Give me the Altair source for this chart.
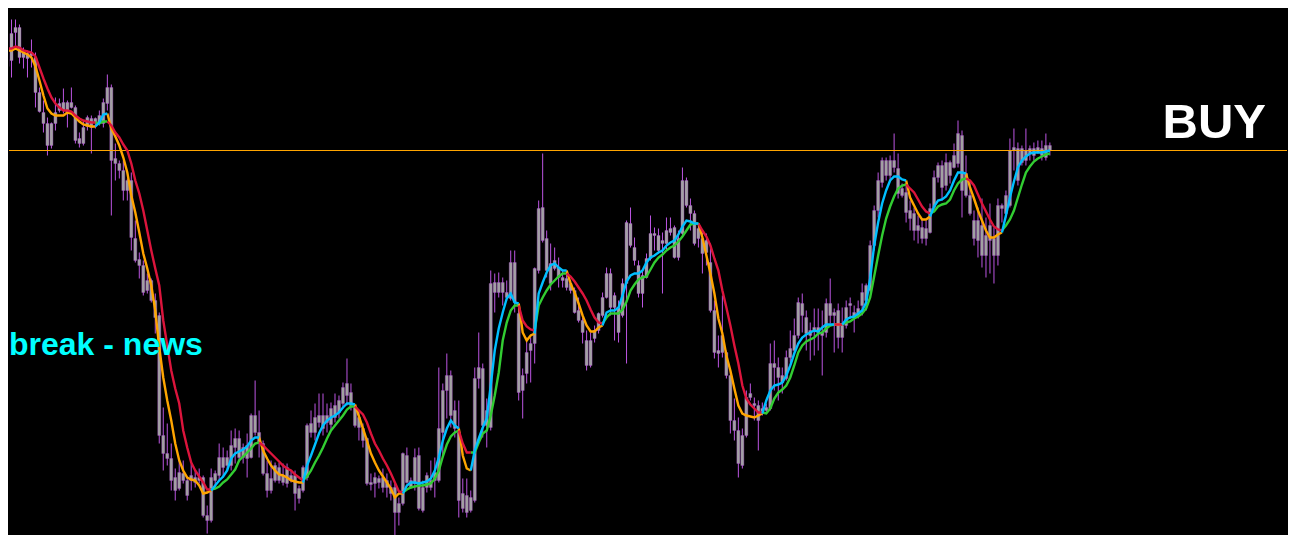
import altair as alt
import pandas as pd

# ---- candle data (price units, higher = higher price) ----
high = [
    485, 506, 524, 524, 519, 496, 493, 504, 491, 456,
    443, 426, 421, 446, 445, 455, 443, 456, 438, 411,
    423, 428, 428, 426, 433, 445, 469, 459, 400, 383,
    383, 365, 371, 323, 291, 283, 270, 265, 250, 231,
    136, 120, 100, 75, 83, 83, 66, 80, 73, 75,
    68, 38, 75, 73, 100, 96, 93, 113, 115, 113,
    100, 110, 130, 163, 133, 103, 83, 83, 81, 81,
    80, 80, 73, 73, 58, 78, 120, 133, 140, 150,
    150, 140, 141, 150, 148, 161, 185, 160, 138, 133,
    120, 106, 70, 71, 68, 75, 70, 63, 60, 46,
    91, 96, 66, 95, 96, 63, 71, 83, 86, 176,
    160, 190, 173, 143, 143, 65, 65, 53, 176, 211,
    180, 145, 273, 270, 271, 266, 263, 293, 293, 238,
    175, 206, 206, 276, 343, 390, 313, 300, 296, 286,
    273, 273, 263, 256, 246, 226, 213, 211, 218, 231,
    251, 276, 275, 251, 243, 265, 323, 336, 306, 283,
    273, 290, 328, 316, 315, 311, 326, 326, 318, 313,
    376, 366, 345, 333, 318, 311, 310, 300, 243, 208,
    248, 193, 173, 145, 126, 115, 153, 160, 146, 143,
    141, 140, 200, 203, 186, 176, 193, 213, 225, 246,
    250, 233, 221, 235, 235, 233, 245, 265, 235, 240,
    236, 243, 246, 238, 243, 260, 260, 303, 338, 371,
    386, 386, 388, 410, 390, 360, 360, 343, 336, 328,
    325, 323, 340, 373, 381, 383, 390, 383, 400, 423,
    413, 388, 363, 333, 336, 345, 326, 340, 316, 345,
    340, 353, 405, 415, 401, 398, 415, 398, 401, 403,
    403, 410, 401,
]
low = [
    476, 451, 466, 496, 480, 475, 466, 476, 436, 431,
    411, 388, 395, 413, 431, 430, 416, 435, 400, 396,
    398, 413, 390, 415, 418, 416, 433, 328, 363, 365,
    343, 343, 293, 281, 265, 248, 250, 241, 210, 100,
    73, 78, 53, 43, 53, 60, 43, 53, 56, 60,
    26, 10, 21, 56, 63, 66, 73, 73, 80, 83,
    80, 66, 85, 108, 86, 68, 46, 50, 61, 60,
    58, 56, 61, 33, 40, 51, 63, 106, 103, 116,
    108, 111, 113, 121, 125, 135, 138, 133, 116, 103,
    96, 58, 53, 46, 55, 51, 46, 43, 1, 18,
    38, 60, 55, 53, 33, 31, 51, 53, 46, 61,
    86, 125, 116, 106, 26, 31, 26, 31, 41, 155,
    106, 96, 113, 231, 246, 238, 243, 243, 231, 143,
    125, 160, 161, 180, 270, 301, 266, 253, 273, 256,
    256, 253, 250, 230, 221, 200, 173, 176, 201, 210,
    226, 245, 228, 203, 201, 226, 180, 296, 278, 246,
    236, 265, 283, 293, 290, 250, 293, 308, 285, 283,
    306, 336, 313, 298, 296, 270, 278, 231, 185, 176,
    186, 165, 110, 103, 66, 75, 106, 143, 123, 93,
    128, 130, 133, 153, 143, 150, 163, 181, 190, 205,
    211, 193, 183, 188, 193, 168, 206, 220, 191, 195,
    191, 215, 225, 211, 225, 228, 233, 251, 293, 326,
    356, 363, 363, 371, 345, 346, 321, 313, 303, 300,
    300, 298, 310, 333, 361, 343, 353, 360, 375, 376,
    326, 346, 328, 298, 286, 276, 266, 270, 260, 278,
    321, 326, 336, 373, 358, 378, 378, 383, 383, 390,
    383, 383, 388,
]
open_ = [
    483, 484, 510, 516, 516, 492, 490, 491, 486, 451,
    431, 420, 420, 431, 440, 441, 441, 441, 436, 405,
    416, 426, 425, 425, 420, 420, 440, 456, 385, 380,
    373, 363, 363, 305, 284, 278, 263, 263, 243, 228,
    108, 90, 85, 66, 71, 70, 63, 68, 66, 66,
    66, 28, 66, 63, 68, 76, 78, 78, 96, 86,
    86, 85, 86, 111, 101, 100, 70, 65, 78, 76,
    68, 76, 68, 68, 55, 76, 66, 111, 111, 121,
    115, 121, 119, 126, 131, 140, 148, 138, 118, 126,
    115, 105, 61, 66, 65, 66, 63, 56, 56, 40,
    90, 61, 56, 60, 35, 33, 56, 56, 63, 63,
    111, 153, 128, 115, 43, 50, 48, 46, 43, 165,
    118, 118, 116, 251, 251, 251, 246, 245, 241, 151,
    168, 191, 200, 275, 273, 303, 273, 260, 275, 266,
    263, 256, 260, 253, 233, 223, 203, 203, 213, 230,
    246, 246, 236, 236, 211, 228, 260, 298, 283, 250,
    250, 266, 285, 308, 293, 300, 300, 311, 286, 286,
    310, 338, 330, 300, 305, 305, 303, 281, 233, 193,
    208, 191, 168, 123, 113, 108, 146, 150, 140, 138,
    135, 133, 135, 176, 166, 161, 165, 186, 193, 208,
    228, 210, 208, 213, 211, 208, 211, 228, 228, 233,
    218, 218, 238, 226, 228, 238, 243, 253, 298, 333,
    361, 368, 368, 376, 350, 348, 331, 333, 330, 318,
    316, 315, 335, 336, 366, 356, 358, 368, 376, 380,
    353, 348, 348, 323, 323, 318, 308, 318, 305, 338,
    338, 330, 338, 393, 363, 381, 383, 390, 388, 391,
    388, 386, 393,
]
close = [
    477, 477, 483, 511, 486, 486, 485, 488, 451, 432,
    420, 398, 398, 420, 433, 433, 431, 436, 403, 400,
    400, 417, 416, 421, 428, 441, 456, 383, 380, 373,
    353, 353, 306, 283, 278, 251, 253, 243, 226, 108,
    90, 85, 63, 53, 55, 63, 48, 63, 61, 63,
    28, 23, 23, 70, 86, 86, 86, 98, 105, 105,
    96, 98, 128, 128, 111, 70, 53, 53, 63, 63,
    61, 60, 63, 50, 45, 53, 118, 120, 126, 128,
    128, 128, 135, 138, 143, 156, 160, 151, 136, 116,
    103, 60, 59, 60, 61, 56, 56, 50, 31, 31,
    40, 88, 63, 86, 88, 56, 68, 63, 71, 115,
    153, 168, 168, 133, 111, 35, 31, 33, 165, 176,
    175, 133, 260, 261, 261, 261, 251, 281, 281, 230,
    153, 170, 193, 200, 335, 336, 305, 280, 283, 276,
    266, 265, 253, 231, 223, 211, 178, 178, 205, 213,
    228, 270, 270, 248, 236, 260, 321, 320, 296, 278,
    268, 285, 310, 310, 308, 303, 313, 315, 316, 305,
    363, 363, 338, 330, 315, 290, 291, 233, 191, 190,
    191, 168, 123, 113, 80, 78, 108, 146, 138, 123,
    130, 136, 180, 180, 176, 168, 186, 195, 208, 241,
    240, 226, 213, 216, 216, 211, 240, 240, 231, 206,
    206, 236, 240, 231, 235, 251, 258, 298, 333, 363,
    383, 383, 383, 383, 375, 355, 351, 325, 313, 313,
    305, 305, 311, 366, 378, 378, 381, 381, 388, 410,
    408, 370, 330, 305, 303, 288, 288, 303, 288, 288,
    335, 348, 393, 396, 395, 395, 393, 395, 395, 396,
    395, 398, 398,
]

# ---- moving averages ----
fast_ma = [
    494, 493, 493, 495, 493, 491, 489, 486, 477, 463,
    448, 435, 430, 428, 428, 428, 431, 430, 426, 422,
    419, 418, 417, 417, 421, 429, 430, 415, 407, 398,
    386, 371, 348, 331, 311, 290, 275, 258, 233, 196,
    166, 143, 123, 100, 83, 73, 66, 64, 63, 58,
    50, 51, 53, 58, 63, 67, 73, 85, 90, 92,
    94, 97, 103, 106, 106, 93, 85, 78, 73, 69,
    68, 66, 63, 62, 61, 61, 78, 88, 99, 110,
    118, 123, 126, 128, 131, 136, 140, 140, 139, 127,
    115, 103, 90, 81, 73, 67, 61, 55, 46, 50,
    50, 58, 61, 61, 60, 61, 62, 65, 73, 86,
    103, 115, 123, 118, 115, 88, 75, 73, 93, 105,
    116, 125, 158, 193, 215, 231, 245, 250, 241, 240,
    211, 203, 208, 210, 250, 261, 271, 278, 280, 276,
    273, 273, 260, 251, 240, 228, 218, 212, 212, 216,
    218, 231, 233, 233, 236, 248, 262, 268, 270, 270,
    273, 281, 286, 288, 291, 293, 298, 301, 303, 309,
    317, 323, 322, 320, 320, 306, 288, 270, 250, 225,
    210, 188, 173, 155, 138, 130, 128, 127, 126, 128,
    130, 143, 153, 158, 159, 161, 168, 178, 190, 200,
    206, 209, 211, 213, 212, 216, 219, 219, 219, 219,
    219, 224, 226, 227, 230, 233, 241, 265, 298, 321,
    340, 353, 363, 367, 367, 364, 363, 346, 338, 330,
    324, 324, 327, 337, 343, 344, 347, 353, 363, 371,
    371, 370, 356, 345, 333, 323, 313, 306, 306, 309,
    311, 328, 346, 362, 376, 383, 387, 390, 391, 391,
    391, 392, 393,
]
slow_ma = [
    498, 495, 495, 497, 496, 493, 492, 491, 487, 476,
    465, 455, 446, 440, 436, 433, 433, 432, 428, 425,
    423, 422, 421, 421, 420, 422, 422, 418, 411, 406,
    399, 393, 380, 363, 350, 333, 313, 293, 275, 258,
    223, 198, 173, 155, 140, 113, 96, 81, 73, 67,
    61, 54, 54, 55, 57, 61, 64, 69, 74, 83,
    87, 91, 95, 100, 101, 98, 94, 90, 86, 82,
    78, 75, 73, 69, 66, 63, 67, 73, 81, 88,
    96, 105, 113, 118, 123, 128, 134, 137, 137, 133,
    129, 121, 110, 100, 93, 85, 78, 70, 61, 52,
    51, 54, 56, 57, 58, 58, 59, 60, 65, 73,
    87, 99, 107, 111, 113, 100, 91, 91, 91, 101,
    110, 113, 128, 148, 171, 203, 221, 233, 238, 238,
    223, 217, 214, 213, 238, 246, 253, 259, 263, 267,
    270, 270, 267, 262, 256, 250, 243, 234, 226, 221,
    220, 226, 230, 230, 230, 234, 242, 253, 259, 264,
    266, 267, 274, 281, 286, 289, 293, 296, 298, 302,
    307, 313, 319, 320, 320, 313, 307, 298, 285, 273,
    253, 236, 218, 198, 180, 158, 145, 139, 135, 131,
    131, 130, 135, 145, 151, 154, 158, 166, 178, 191,
    198, 202, 204, 206, 210, 211, 215, 218, 219, 219,
    219, 221, 222, 225, 227, 230, 235, 246, 267, 288,
    308, 325, 337, 347, 355, 358, 359, 355, 351, 344,
    337, 332, 330, 332, 337, 339, 340, 344, 353, 360,
    364, 365, 363, 358, 349, 340, 332, 324, 317, 314,
    313, 318, 324, 333, 346, 359, 371, 377, 382, 385,
    387, 389, 390,
]
# trend regime runs (colour of the MA pair): (kind, number of bars)
regime_runs = [
    ("down", 24), ("up", 3), ("down", 26), ("up", 12), ("down", 11),
    ("up", 13), ("down", 12), ("up", 14), ("down", 3), ("up", 12),
    ("down", 4), ("up", 8), ("down", 9), ("up", 24), ("down", 16),
    ("up", 18), ("down", 2), ("up", 16), ("down", 6), ("up", 9),
    ("down", 9), ("up", 12),
]
level_price = [393]
label_text = ["BUY", "break - news"]
label_bar = [316.125, 1.375]
label_price = [406, 189]

# ---- tables ----
n = len(high)
candles = pd.DataFrame({
    "bar": list(range(n)), "open": open_, "high": high, "low": low, "close": close,
})
rows = []
start = 0
for seg_id, (kind, length) in enumerate(regime_runs):
    first = max(start - 1, 0)
    for i in range(first, start + length):
        rows.append({"bar": i, "price": fast_ma[i], "series": "fast_" + kind, "seg": seg_id})
        rows.append({"bar": i, "price": slow_ma[i], "series": "slow_" + kind, "seg": seg_id})
    start += length
lines = pd.DataFrame(rows)
labels = pd.DataFrame({"text": label_text, "bar": label_bar, "price": label_price})
level = pd.DataFrame({"price": level_price})

xs = alt.Scale(domain=[1.375, 321.375], nice=False, zero=False, padding=0)
ys = alt.Scale(domain=[8.5, 535.5], nice=False, zero=False, padding=0)
X = alt.X("bar:Q", scale=xs, axis=None)

wicks = alt.Chart(candles).mark_rule(color="#BC55E2", strokeWidth=1, clip=True).encode(
    x=X, y=alt.Y("low:Q", scale=ys, axis=None), y2="high:Q"
)
bodies = alt.Chart(candles).mark_bar(
    size=3, fill="#A2A2A2", stroke="#B553DC", strokeWidth=0.5, strokeOpacity=0.7, clip=True
).encode(x=X, y=alt.Y("open:Q", scale=ys, axis=None), y2="close:Q")

line_colors = [
    ("slow_up", "#32CD32"),
    ("fast_down", "#FFA500"),
    ("slow_down", "#DC143C"),
    ("fast_up", "#00BFFF"),
]
line_layers = []
for name, col in line_colors:
    line_layers.append(
        alt.Chart(lines)
        .transform_filter(alt.datum.series == name)
        .mark_line(color=col, strokeWidth=2.4, clip=True)
        .encode(x=X, y=alt.Y("price:Q", scale=ys, axis=None), detail="seg:N")
    )

level_rule = alt.Chart(level).mark_rule(color="#FFA500", strokeWidth=1).encode(
    y=alt.Y("price:Q", scale=ys, axis=None)
)

buy_text = alt.Chart(labels).transform_filter(alt.datum.text == "BUY").mark_text(
    align="right", baseline="alphabetic", font="Liberation Sans", fontWeight="bold",
    fontSize=49, color="#FFFFFF"
).encode(x=X, y=alt.Y("price:Q", scale=ys, axis=None), text="text:N")

news_text = alt.Chart(labels).transform_filter(alt.datum.text == "break - news").mark_text(
    align="left", baseline="alphabetic", font="Liberation Sans", fontWeight="bold",
    fontSize=32, color="#00FFFF"
).encode(x=X, y=alt.Y("price:Q", scale=ys, axis=None), text="text:N")

chart = alt.layer(
    wicks, bodies, level_rule, *line_layers, buy_text, news_text
).properties(
    width=1280,
    height=527,
    padding=0,
    background="#000000",
    autosize=alt.AutoSizeParams(type="fit", contains="padding"),
).configure_view(strokeWidth=0)

chart.save("out.html", embed_options={"renderer": "svg", "actions": False})
